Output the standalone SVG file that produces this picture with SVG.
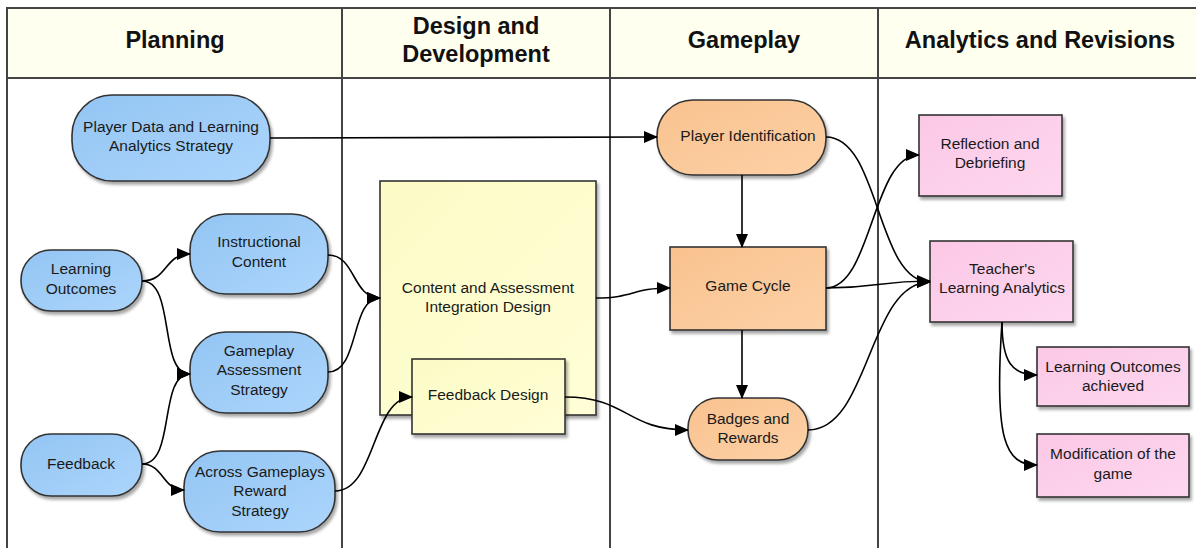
<svg xmlns="http://www.w3.org/2000/svg" width="1196" height="548" viewBox="0 0 1196 548">
<defs>
<style>
.hdr{font-family:"Liberation Sans",Arial,sans-serif;font-weight:bold;font-size:23.5px;fill:#111;text-anchor:middle}
.t{font-family:"Liberation Sans",Arial,sans-serif;font-size:15.5px;fill:#1a1a1a;text-anchor:middle}
.nb{stroke:#333;stroke-width:1.6}
.lane{stroke:#444;stroke-width:2;fill:none}
.c{fill:none;stroke:#000;stroke-width:1.6}
</style>
<linearGradient id="gb" x1="0" y1="0" x2="1" y2="1"><stop offset="0" stop-color="#93c5f3"/><stop offset="1" stop-color="#acd5fc"/></linearGradient>
<linearGradient id="go" x1="0" y1="0" x2="1" y2="1"><stop offset="0" stop-color="#f9c28f"/><stop offset="1" stop-color="#fdd1a6"/></linearGradient>
<linearGradient id="gy" x1="0" y1="0" x2="1" y2="1"><stop offset="0" stop-color="#fcfbc6"/><stop offset="1" stop-color="#fffed6"/></linearGradient>
<linearGradient id="gp" x1="0" y1="0" x2="1" y2="1"><stop offset="0" stop-color="#fbc8e5"/><stop offset="1" stop-color="#fed7ef"/></linearGradient>
<filter id="sh" x="-10%" y="-10%" width="130%" height="130%"><feDropShadow dx="2" dy="3" stdDeviation="1.5" flood-color="#000" flood-opacity="0.35"/></filter>
<marker id="ar" markerUnits="userSpaceOnUse" markerWidth="14" markerHeight="12" refX="13" refY="6" orient="auto"><path d="M0,0 L14,6 L0,12 Z" fill="#000"/></marker>
</defs>
<rect x="0" y="0" width="1196" height="548" fill="#fff"/>
<g id="lanes">
<rect x="7" y="8" width="1195" height="70" fill="#fffff0"/>
<path class="lane" d="M7,560 V8 H1200 M7,78 H1200 M342,8 V560 M610,8 V560 M878,8 V560"/>
<text class="hdr" x="175" y="48">Planning</text>
<text class="hdr" x="476" y="34">Design and</text>
<text class="hdr" x="476" y="62">Development</text>
<text class="hdr" x="744" y="48">Gameplay</text>
<text class="hdr" x="1040" y="48">Analytics and Revisions</text>
</g>
<g id="n-playerdata"><rect class="nb" x="72" y="95" width="198" height="86" rx="40" fill="url(#gb)" filter="url(#sh)"/><text class="t" x="171" y="132">Player Data and Learning</text><text class="t" x="171" y="151">Analytics Strategy</text></g>
<g id="n-lo"><rect class="nb" x="21" y="250" width="121" height="61" rx="30" fill="url(#gb)" filter="url(#sh)"/><text class="t" x="81" y="274">Learning</text><text class="t" x="81" y="294">Outcomes</text></g>
<g id="n-ic"><rect class="nb" x="190" y="214" width="138" height="80" rx="36" fill="url(#gb)" filter="url(#sh)"/><text class="t" x="259" y="247">Instructional</text><text class="t" x="259" y="267">Content</text></g>
<g id="n-gas"><rect class="nb" x="190" y="332" width="138" height="81" rx="36" fill="url(#gb)" filter="url(#sh)"/><text class="t" x="259" y="356">Gameplay</text><text class="t" x="259" y="375">Assessment</text><text class="t" x="259" y="395">Strategy</text></g>
<g id="n-fb"><rect class="nb" x="21" y="434" width="121" height="62" rx="30" fill="url(#gb)" filter="url(#sh)"/><text class="t" x="81" y="469">Feedback</text></g>
<g id="n-ags"><rect class="nb" x="184" y="451" width="151" height="81" rx="36" fill="url(#gb)" filter="url(#sh)"/><text class="t" x="260" y="477">Across Gameplays</text><text class="t" x="260" y="496">Reward</text><text class="t" x="260" y="516">Strategy</text></g>
<g id="n-caid"><rect class="nb" x="380" y="181" width="216" height="234" fill="url(#gy)" filter="url(#sh)"/><text class="t" x="488" y="293">Content and Assessment</text><text class="t" x="488" y="312">Integration Design</text></g>
<g id="n-fd"><rect class="nb" x="412" y="359" width="153" height="75" fill="url(#gy)" filter="url(#sh)"/><text class="t" x="488" y="400">Feedback Design</text></g>
<g id="n-pid"><rect class="nb" x="657" y="100" width="169" height="75" rx="36" fill="url(#go)" filter="url(#sh)"/><text class="t" x="748" y="141">Player Identification</text></g>
<g id="n-gc"><rect class="nb" x="670" y="247" width="156" height="83" fill="url(#go)" filter="url(#sh)"/><text class="t" x="748" y="291">Game Cycle</text></g>
<g id="n-br"><rect class="nb" x="688" y="398" width="120" height="62" rx="30" fill="url(#go)" filter="url(#sh)"/><text class="t" x="748" y="424">Badges and</text><text class="t" x="748" y="443">Rewards</text></g>
<g id="n-rd"><rect class="nb" x="919" y="115" width="143" height="81" fill="url(#gp)" filter="url(#sh)"/><text class="t" x="990" y="149">Reflection and</text><text class="t" x="990" y="168">Debriefing</text></g>
<g id="n-tla"><rect class="nb" x="930" y="241" width="143" height="81" fill="url(#gp)" filter="url(#sh)"/><text class="t" x="1002" y="274">Teacher's</text><text class="t" x="1002" y="293">Learning Analytics</text></g>
<g id="n-loa"><rect class="nb" x="1037" y="347" width="152" height="59" fill="url(#gp)" filter="url(#sh)"/><text class="t" x="1113" y="372">Learning Outcomes</text><text class="t" x="1113" y="391">achieved</text></g>
<g id="n-mod"><rect class="nb" x="1037" y="434" width="152" height="63" fill="url(#gp)" filter="url(#sh)"/><text class="t" x="1113" y="459">Modification of the</text><text class="t" x="1113" y="479">game</text></g>
<g id="connectors">
<path class="c" marker-end="url(#ar)" d="M270,138 L657,137"/>
<path class="c" marker-end="url(#ar)" d="M142,281 C168,281 164,254 190,254"/>
<path class="c" marker-end="url(#ar)" d="M142,281 C176,281 158,374 190,374"/>
<path class="c" marker-end="url(#ar)" d="M142,464 C176,464 158,374 190,374"/>
<path class="c" marker-end="url(#ar)" d="M142,464 C164,464 162,490 184,490"/>
<path class="c" marker-end="url(#ar)" d="M328,255 C356,255 352,298 380,298"/>
<path class="c" marker-end="url(#ar)" d="M328,372 C360,372 350,298 380,298"/>
<path class="c" marker-end="url(#ar)" d="M335,491 C376,491 372,397 412,397"/>
<path class="c" marker-end="url(#ar)" d="M596,298 C634,298 632,288 670,288"/>
<path class="c" marker-end="url(#ar)" d="M565,397 C628,397 626,430 688,430"/>
<path class="c" marker-end="url(#ar)" d="M742,175 V247"/>
<path class="c" marker-end="url(#ar)" d="M742,330 V398"/>
<path class="c" marker-end="url(#ar)" d="M826,137 C880,137 876,282 930,282"/>
<path class="c" marker-end="url(#ar)" d="M826,288 C872,288 872,155 919,155"/>
<path class="c" marker-end="url(#ar)" d="M826,288 C878,288 878,281 930,281"/>
<path class="c" marker-end="url(#ar)" d="M808,430 C870,430 868,282 930,282"/>
<path class="c" marker-end="url(#ar)" d="M1002,322 C1002,362 1012,375 1037,375"/>
<path class="c" marker-end="url(#ar)" d="M1002,322 C994,440 1005,465 1037,465"/>
</g>
</svg>
